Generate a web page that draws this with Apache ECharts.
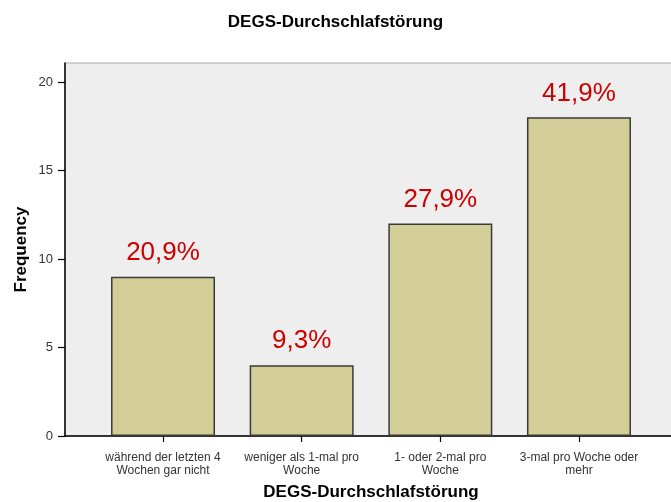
<!DOCTYPE html>
<html>
<head>
<meta charset="utf-8">
<script src="https://cdn.jsdelivr.net/npm/echarts@6/dist/echarts.min.js"></script>
<style>
  html, body { margin: 0; padding: 0; background: #ffffff; }
  #chart { width: 671px; height: 502px; }
</style>
</head>
<body>
<div id="chart"></div>
<script>
// Answer categories of the sleep-maintenance item
const categories = [
  'während der letzten 4\nWochen gar nicht',
  'weniger als 1-mal pro\nWoche',
  '1- oder 2-mal pro\nWoche',
  '3-mal pro Woche oder\nmehr'
];
// Counts per category
const frequencies = [9, 4, 12, 18];
// Share of all answers, as printed above each bar
const percentLabels = ['20,9%', '9,3%', '27,9%', '41,9%'];
// Y axis tick values
const yTicks = [0, 5, 10, 15, 20];

const positions = categories.map((_, i) => i);
const FONT = '"Liberation Sans", Arial, sans-serif';

const chart = echarts.init(document.getElementById('chart'), null, { renderer: 'canvas' });

chart.setOption({
  animation: false,
  backgroundColor: '#ffffff',
  title: {
    text: 'DEGS-Durchschlafstörung',
    left: 'center',
    top: 9,
    textStyle: { fontFamily: FONT, fontSize: 17, fontWeight: 'bold', color: '#000000' }
  },
  grid: {
    left: 65,
    top: 63,
    width: 612,
    height: 373,
    outerBoundsMode: 'none',
    containLabel: false,
    show: true,
    backgroundColor: '#eeeeee',
    borderColor: '#a8a8a8',
    borderWidth: 1
  },
  xAxis: {
    type: 'value',
    min: -0.707,
    max: 3.707,
    name: 'DEGS-Durchschlafstörung',
    nameLocation: 'middle',
    nameGap: 48,
    nameMoveOverlap: false,
    nameTextStyle: { fontFamily: FONT, fontSize: 17, fontWeight: 'bold', color: '#000000' },
    axisLine: { show: true, onZero: false, lineStyle: { color: '#000000', width: 1.5 } },
    axisTick: { show: true, customValues: positions, length: 6, lineStyle: { color: '#000000', width: 1.2 } },
    axisLabel: {
      customValues: positions,
      formatter: v => categories[Math.round(v)] || '',
      margin: 15,
      fontFamily: FONT,
      fontSize: 12,
      lineHeight: 13,
      color: '#333333'
    },
    splitLine: { show: false }
  },
  yAxis: {
    type: 'value',
    min: 0,
    max: 21.07,
    name: 'Frequency',
    nameLocation: 'middle',
    nameGap: 35,
    nameMoveOverlap: false,
    nameRotate: 90,
    nameTextStyle: { fontFamily: FONT, fontSize: 17, fontWeight: 'bold', color: '#000000' },
    axisLine: { show: true, onZero: false, lineStyle: { color: '#000000', width: 1.5 } },
    axisTick: { show: true, customValues: yTicks, length: 7, lineStyle: { color: '#000000', width: 1.2 } },
    axisLabel: {
      customValues: yTicks,
      margin: 12,
      fontFamily: FONT,
      fontSize: 13,
      color: '#333333'
    },
    splitLine: { show: false }
  },
  series: [{
    type: 'bar',
    data: frequencies.map((v, i) => [positions[i], v]),
    barWidth: 104,
    itemStyle: { color: '#d3ce97', borderColor: '#3a3a3a', borderWidth: 1.5 },
    label: {
      show: true,
      position: 'top',
      distance: 11,
      formatter: p => percentLabels[p.dataIndex],
      fontFamily: FONT,
      fontSize: 26,
      color: '#cc0000'
    }
  }]
});
</script>
</body>
</html>
